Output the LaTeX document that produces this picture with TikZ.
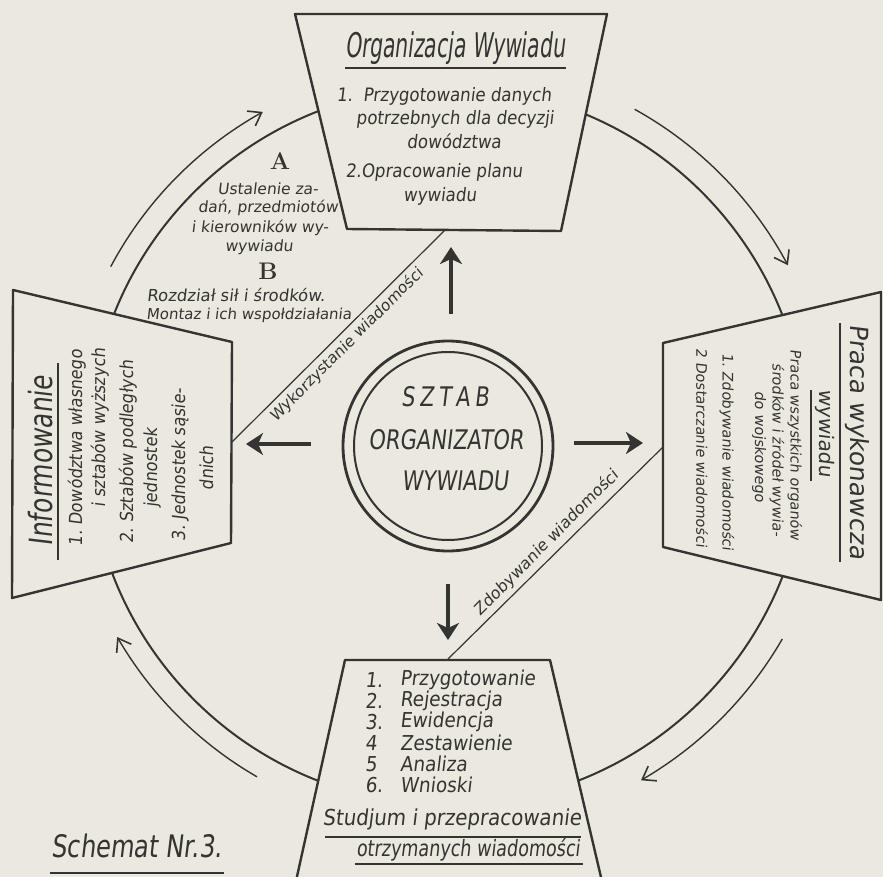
\documentclass[tikz,border=0pt]{standalone}
\usepackage{fontspec}
\usetikzlibrary{arrows.meta}
\newfontfamily\hn[FakeStretch=0.6,FakeSlant=0.12]{DejaVu Sans}
\newfontfamily\hb[FakeStretch=0.78,FakeSlant=0.12]{DejaVu Sans}
\newfontfamily\hm[FakeStretch=0.9,FakeSlant=0.12]{DejaVu Sans}
\newfontfamily\hw[FakeSlant=0.12]{DejaVu Sans}
\newcommand\myfs[1]{\fontsize{#1}{#1}\selectfont}
\definecolor{bg}{RGB}{235,232,223}
\definecolor{ink}{RGB}{52,52,50}
\tikzset{
  txt/.style={inner sep=0pt, text=ink},
  trap/.style={draw=ink, fill=bg, line width=2.4pt, line join=round},
  uline/.style={draw=ink, line width=1.2pt},
  ring/.style={draw=ink, line width=2pt},
  cyc/.style={draw=ink, line width=1.4pt, -{Straight Barb[length=12pt,width=17pt,line width=1.6pt]}},
  big/.style={draw=ink, line width=4pt, -{Stealth[length=17pt,width=22pt,inset=5pt]}},
  diag/.style={draw=ink, line width=1.2pt},
}
\begin{document}
\begin{tikzpicture}[x=1pt,y=-1pt]
\path[use as bounding box, fill=bg] (0,0) rectangle (883,877);
\clip (0,0) rectangle (883,877);
% big cycle circle
\draw[ring] (448,446) circle[radius=359];
% trapezoids
\draw[trap] (295,14) -- (607,14) -- (561,231) -- (347,229) -- cycle;
\draw[trap] (13,290) -- (232,342) -- (231,543) -- (12,598) -- cycle;
\draw[trap] (881,292) -- (663,343) -- (663,547) -- (881,600) -- cycle;
\draw[trap] (345,660) -- (550,660) -- (604,890) -- (294,890) -- cycle;
% cycle arrows
\draw[cyc] plot[domain=-152:-119,samples=50] ({448+382*cos(\x)},{446+382*sin(\x)});
\draw[cyc] plot[domain=-61:-28,samples=50] ({448+385*cos(\x)},{446+385*sin(\x)});
\draw[cyc] plot[domain=30:60,samples=50] ({448+386*cos(\x)},{446+386*sin(\x)});
\draw[cyc] plot[domain=120:150,samples=50] ({448+382*cos(\x)},{446+382*sin(\x)});
% central circle
\node[circle, draw=ink, line width=2.8pt, minimum size=210pt, inner sep=0pt] (hq) at (448,446) {};
\node[circle, draw=ink, line width=2pt, minimum size=188pt, inner sep=0pt] (hqi) at (448,446) {};
\node[txt, font=\hb\myfs{27}] (s1) at (445,397) {S\,Z\,T\,A\,B};
\node[txt, font=\hb\myfs{27}] (s2) at (446,440) {ORGANIZATOR};
\node[txt, font=\hb\myfs{27}] (s3) at (455,481) {WYWIADU};
% central arrows
\coordinate (uA) at (451,314); \coordinate (uB) at (451,247);
\coordinate (dA) at (448,584); \coordinate (dB) at (448,640);
\coordinate (lA) at (311,444); \coordinate (lB) at (246,444);
\coordinate (rA) at (574,443); \coordinate (rB) at (643,443);
\draw[big] (uA) -- (uB);
\draw[big] (dA) -- (dB);
\draw[big] (lA) -- (lB);
\draw[big] (rA) -- (rB);
% diagonal lines
\coordinate (w1) at (232,442); \coordinate (w2) at (445,230);
\coordinate (z1) at (663,447); \coordinate (z2) at (448,659);
\draw[diag] (w1) -- (w2);
\draw[diag] (z1) -- (z2);
\node[txt, font=\hw\myfs{15.5}, rotate=45] (wyk) at (347,345) {Wykorzystanie wiadomości};
\node[txt, font=\hw\myfs{16}, rotate=45] (zdo) at (547,543) {Zdobywanie wiadomości};
% top box
\node[txt, font=\hn\myfs{34}] (t0) at (455,48) {Organizacja Wywiadu};
\draw[uline] (345,68) -- (566,68);
\node[txt, font=\hm\myfs{18.5}] (t1) at (444,96) {1.\ \ Przygotowanie danych};
\node[txt, font=\hm\myfs{18.5}] (t2) at (455,119) {potrzebnych dla decyzji};
\node[txt, font=\hm\myfs{18.5}] (t3) at (454,141) {dowództwa};
\node[txt, font=\hm\myfs{18.5}] (t4) at (434,172) {2.Opracowanie planu};
\node[txt, font=\hm\myfs{18.5}] (t5) at (440,196) {wywiadu};
% A / B region
\node[txt, font=\rmfamily\bfseries\myfs{24}] (lA1) at (280,161) {A};
\node[txt, font=\hw\myfs{15.5}] (a1) at (268,189) {Ustalenie za-};
\node[txt, font=\hw\myfs{15.5}] (a2) at (268,208) {dań, przedmiotów};
\node[txt, font=\hw\myfs{15.5}] (a3) at (260,228) {i kierowników wy-};
\node[txt, font=\hw\myfs{15.5}] (a4) at (259,247) {wywiadu};
\node[txt, font=\rmfamily\bfseries\myfs{24}] (lB1) at (268,271) {B};
\node[txt, font=\hw\myfs{16.5}] (b1) at (236,295) {Rozdział sił i środków.};
\node[txt, font=\hw\myfs{15}] (b2) at (249,315) {Montaz i ich wspołdziałania};
% left box
\node[txt, font=\hb\myfs{32}, rotate=90] (l0) at (41,461) {Informowanie};
\draw[uline] (58,363) -- (58,560);
\node[txt, font=\hm\myfs{18}, rotate=90] (l1) at (77,448) {1.\ Dowództwa własnego};
\node[txt, font=\hm\myfs{18}, rotate=90] (l2) at (100,428) {i sztabów wyższych};
\node[txt, font=\hm\myfs{18}, rotate=90] (l3) at (128,452) {2.\ Sztabów podległych};
\node[txt, font=\hm\myfs{18}, rotate=90] (l4) at (153,468) {jednostek};
\node[txt, font=\hm\myfs{18}, rotate=90] (l5) at (180,465) {3.\ Jednostek sąsie-};
\node[txt, font=\hm\myfs{18}, rotate=90] (l6) at (207,468) {dnich};
% right box
\node[txt, font=\hw\myfs{25}, rotate=-90] (r0) at (857,442) {Praca wykonawcza};
\draw[uline] (840,323) -- (840,562);
\node[txt, font=\hw\myfs{20}, rotate=-90] (r1) at (825,433) {wywiadu};
\draw[uline] (811,390) -- (811,481);
\node[txt, font=\hw\myfs{14.5}, rotate=-90] (r2) at (795,445) {Praca wszystkich organów};
\node[txt, font=\hw\myfs{14.5}, rotate=-90] (r3) at (777,450) {środków i źródeł wywia-};
\node[txt, font=\hw\myfs{14.5}, rotate=-90] (r4) at (759,447) {do wojskowego};
\node[txt, font=\hw\myfs{14.5}, rotate=-90] (r5) at (727,452) {1.\ Zdobywanie wiadomości};
\node[txt, font=\hw\myfs{14.5}, rotate=-90] (r6) at (702,448) {2 Dostarczanie wiadomości};
% bottom box
\foreach \n/\w/\y in {1./Przygotowanie/680, 2./Rejestracja/701, 3./Ewidencja/722, 4/Zestawienie/743, 5/Analiza/764, 6./Wnioski/785}{
  \node[txt, font=\hm\myfs{20.5}, anchor=west] at (365,\y) {\n};
  \node[txt, font=\hm\myfs{20.5}, anchor=west] at (400,\y) {\w};
}
\node[txt, font=\hm\myfs{22}] (st1) at (452,819) {Studjum i przepracowanie};
\draw[uline] (325,837) -- (581,837);
\node[txt, font=\hb\myfs{22.5}] (st2) at (468,850) {otrzymanych wiadomości};
\draw[uline] (355,864) -- (583,864);
% caption
\node[txt, font=\hb\myfs{31}] (cap) at (137,846) {Schemat Nr.3.};
\draw[uline] (50,873) -- (224,873);
\end{tikzpicture}
\end{document}
